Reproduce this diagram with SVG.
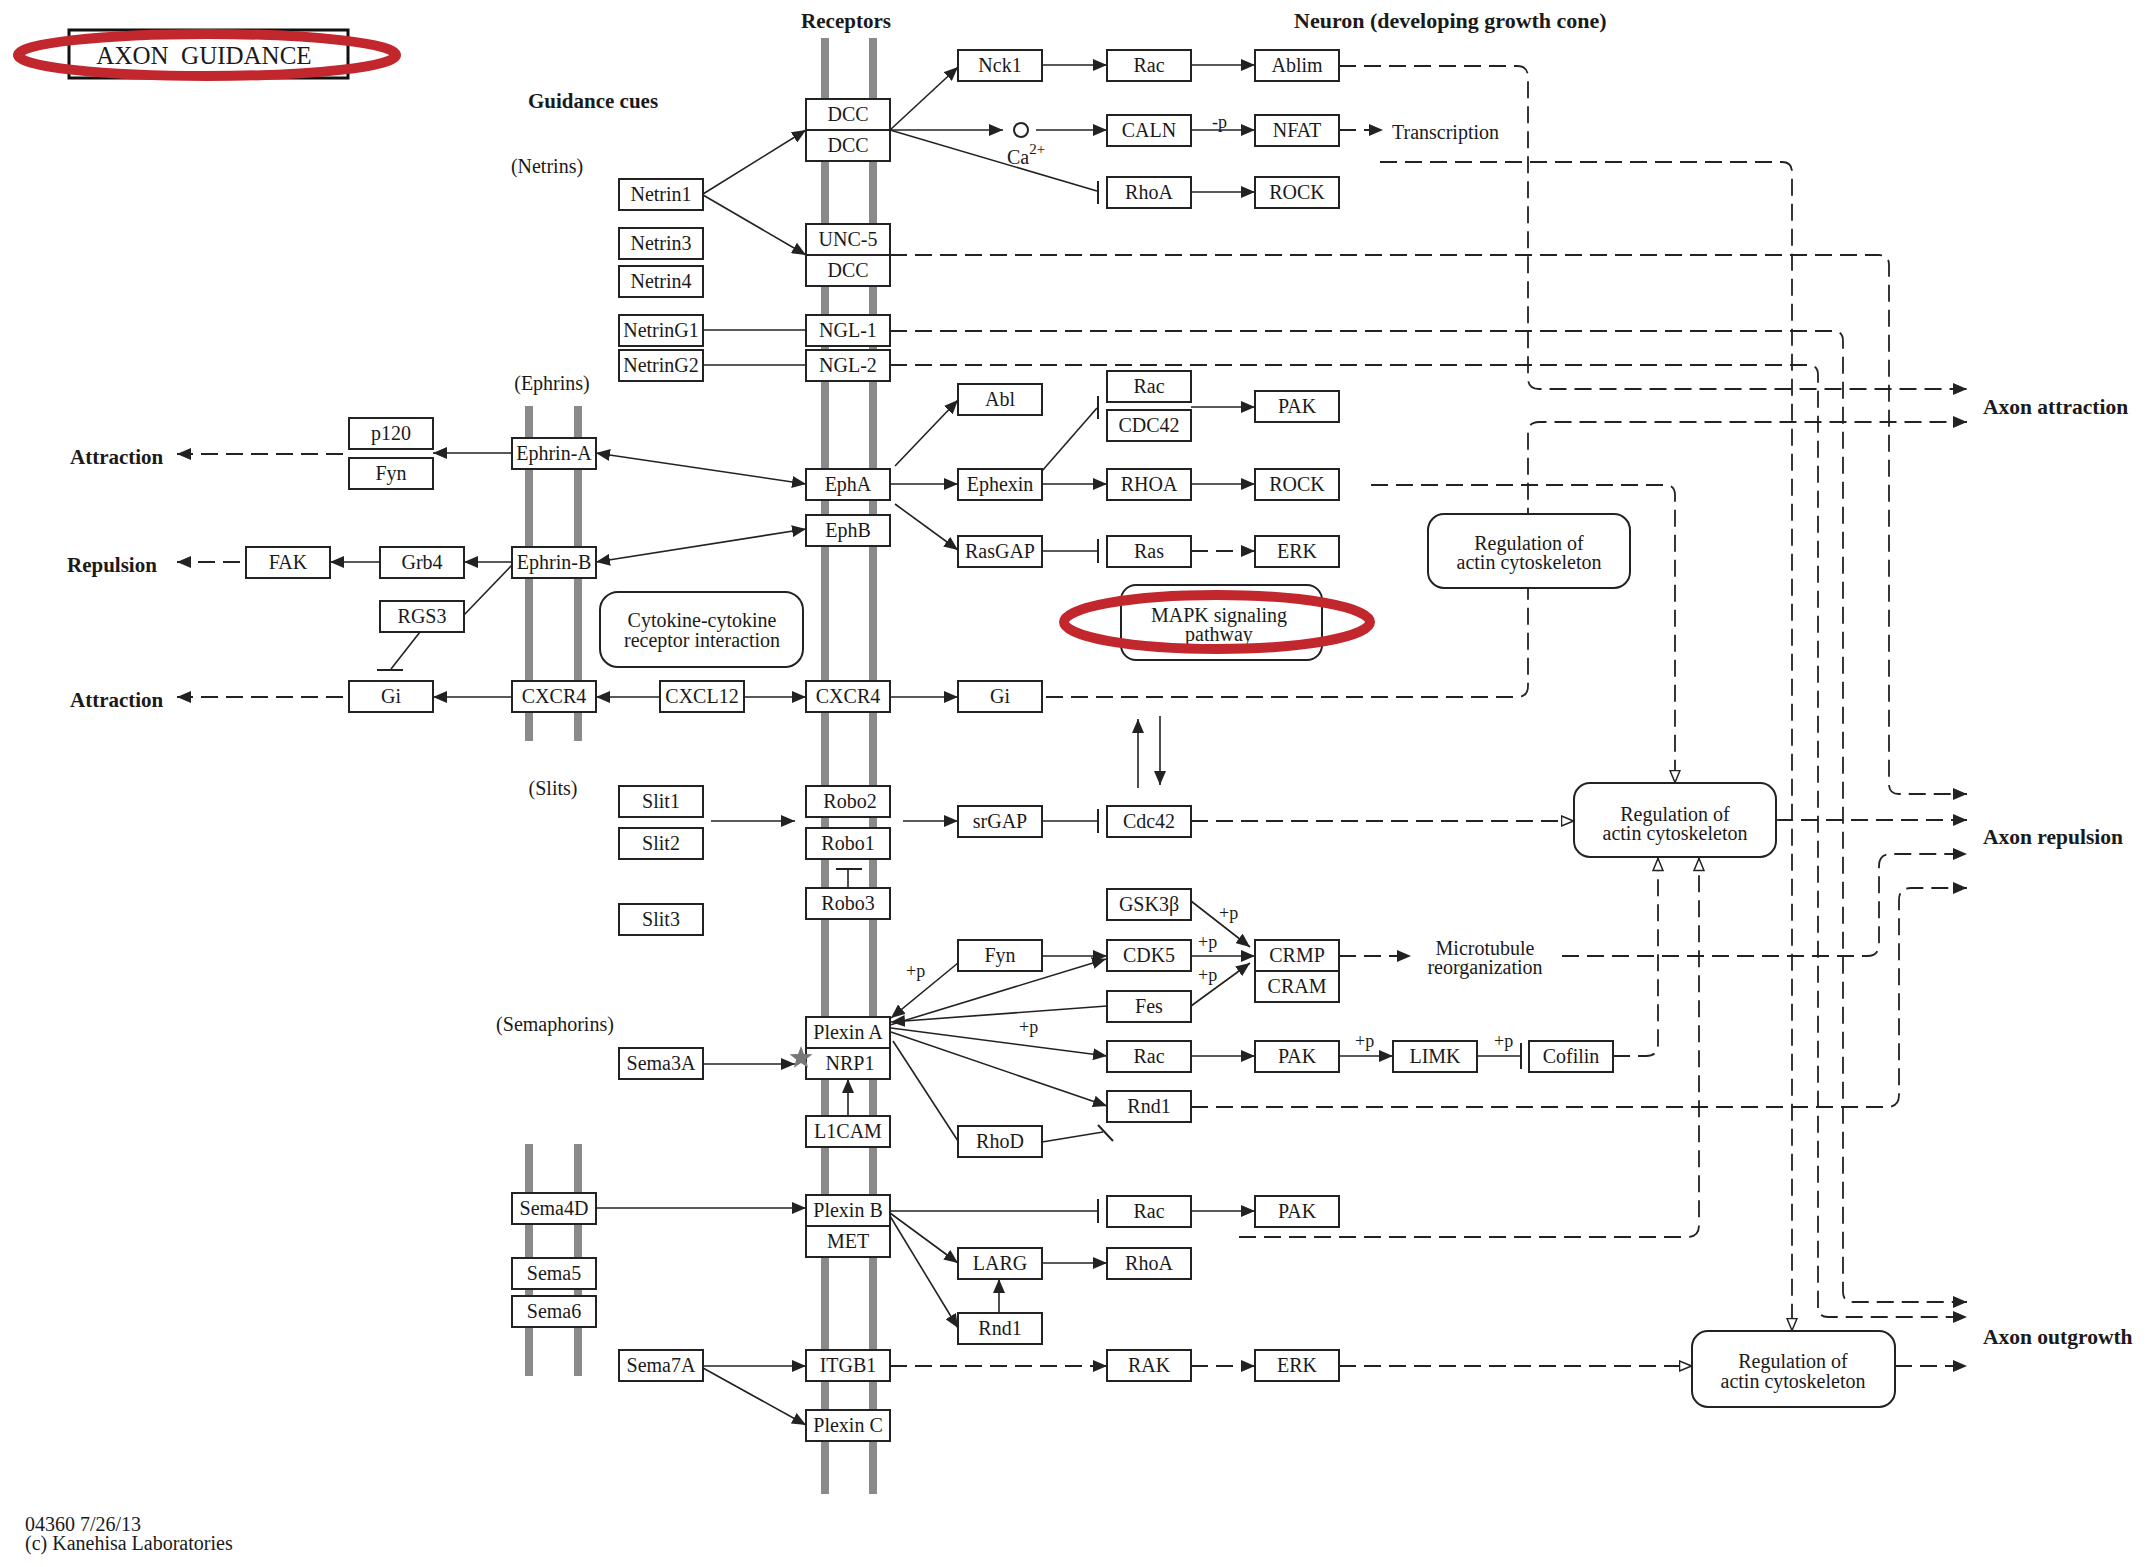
<svg xmlns="http://www.w3.org/2000/svg" width="2150" height="1567" viewBox="0 0 2150 1567">
<style>
text{font-family:'Liberation Serif','Times New Roman',serif;fill:#1a1a1a}
.b{fill:#fff;stroke:#222;stroke-width:2}
.r{fill:#fff;stroke:#222;stroke-width:2}
.t{font-size:20px;text-anchor:middle}
.h{font-size:21px;font-weight:bold}
.p{font-size:18px}
.m{fill:#8a8a8a}
.l{stroke:#222;stroke-width:1.6;fill:none}
.d{stroke:#222;stroke-width:1.8;fill:none;stroke-dasharray:17 8}
.ba{stroke:#222;stroke-width:2;fill:none}
.a{marker-end:url(#a)}
.ab{marker-start:url(#a);marker-end:url(#a)}
.o{marker-end:url(#o)}
</style>
<defs>
<marker id="a" viewBox="0 0 14 12" refX="14" refY="6" markerWidth="14" markerHeight="12" markerUnits="userSpaceOnUse" orient="auto-start-reverse"><path d="M0,0 L14,6 L0,12 z" fill="#222"/></marker>
<marker id="o" viewBox="0 0 14 12" refX="13.5" refY="6" markerWidth="14" markerHeight="12" markerUnits="userSpaceOnUse" orient="auto"><path d="M1,1 L13,6 L1,11 z" fill="#fff" stroke="#222" stroke-width="1.5"/></marker>
</defs>
<rect width="2150" height="1567" fill="#fff"/>

<g id="membranes">
<rect class="m" x="821" y="38" width="8" height="1456"/>
<rect class="m" x="869" y="38" width="8" height="1456"/>
<rect class="m" x="525" y="406" width="8" height="335"/>
<rect class="m" x="574" y="406" width="8" height="335"/>
<rect class="m" x="525" y="1144" width="8" height="232"/>
<rect class="m" x="574" y="1144" width="8" height="232"/>
</g>

<g id="connectors">
<path class="l a" d="M703,194 L806,130"/>
<path class="l a" d="M703,195 L806,255"/>
<path class="l a" d="M890,130 L958,67"/>
<path class="l a" d="M890,130 L1003,130"/>
<path class="l" d="M890,130 L1097,191"/><path class="ba" d="M1098,181 V204"/>
<path class="l a" d="M1042,65 L1107,65"/>
<path class="l a" d="M1191,65 L1255,65"/>
<path class="l a" d="M1036,130 L1107,130"/>
<path class="l a" d="M1191,130 L1255,130"/>
<path class="l a" d="M1191,192 L1255,192"/>
<path class="l" d="M703,330 L806,330"/>
<path class="l" d="M703,365 L806,365"/>
<path class="l ab" d="M596,453 L806,484"/>
<path class="l a" d="M512,453 L433,453"/>
<path class="l a" d="M895,466 L958,400"/>
<path class="l a" d="M890,484 L958,484"/>
<path class="l a" d="M895,504 L958,550"/>
<path class="l" d="M1042,471 L1097,408"/><path class="ba" d="M1098,396 V419"/>
<path class="l a" d="M1191,407 L1255,407"/>
<path class="l a" d="M1042,484 L1107,484"/>
<path class="l a" d="M1191,484 L1255,484"/>
<path class="l" d="M1042,551 L1097,551"/><path class="ba" d="M1098,539 V563"/>
<path class="l ab" d="M596,562 L806,529"/>
<path class="l a" d="M512,562 L464,562"/>
<path class="l a" d="M380,562 L330,562"/>
<path class="l" d="M512,565 L464,615"/>
<path class="l" d="M420,632 L391,669"/><path class="ba" d="M377,670 H403"/>
<path class="l a" d="M512,697 L433,697"/>
<path class="l a" d="M660,697 L596,697"/>
<path class="l a" d="M743,697 L806,697"/>
<path class="l a" d="M890,697 L958,697"/>
<path class="l a" d="M711,821 L795,821"/>
<path class="l a" d="M903,821 L958,821"/>
<path class="l" d="M1042,821 L1097,821"/><path class="ba" d="M1098,809 V833"/>
<path class="l" d="M848,888 V869"/><path class="ba" d="M836,869 H862"/>
<path class="l a" d="M1138,788 V719"/>
<path class="l a" d="M1160,716 V785"/>
<path class="l a" d="M958,963 L891,1018"/>
<path class="l a" d="M1042,956 L1107,956"/>
<path class="l a" d="M890,1025 L1106,959"/>
<path class="l a" d="M1107,1006 L891,1022"/>
<path class="l a" d="M891,1028 L1107,1056"/>
<path class="l a" d="M891,1032 L1107,1106"/>
<path class="l" d="M893,1041 L958,1141"/>
<path class="l" d="M1042,1142 L1103,1132"/><path class="ba" d="M1098,1125 L1113,1141"/>
<path class="l a" d="M1191,1056 L1255,1056"/>
<path class="l a" d="M1339,1056 L1393,1056"/>
<path class="l" d="M1477,1056 L1520,1056"/><path class="ba" d="M1521,1043 V1069"/>
<path class="l a" d="M1191,901 L1250,947"/>
<path class="l a" d="M1191,956 L1255,956"/>
<path class="l a" d="M1191,1006 L1250,963"/>
<path class="l a" d="M703,1064 L795,1064"/>
<path class="l a" d="M848,1116 V1079"/>
<path class="l a" d="M596,1208 L806,1208"/>
<path class="l" d="M890,1211 L1097,1211"/><path class="ba" d="M1098,1199 V1223"/>
<path class="l a" d="M1191,1211 L1255,1211"/>
<path class="l a" d="M890,1213 L958,1263"/>
<path class="l a" d="M890,1216 L958,1328"/>
<path class="l a" d="M999,1313 V1279"/>
<path class="l a" d="M1042,1263 L1107,1263"/>
<path class="l a" d="M703,1366 L806,1366"/>
<path class="l a" d="M703,1368 L806,1425"/>
<path class="d a" d="M343,454 L177,454"/>
<path class="d a" d="M240,562 L177,562"/>
<path class="d a" d="M343,697 L177,697"/>
<path class="d a" d="M1339,130 L1383,130"/>
<path class="d a" d="M1191,551 L1255,551"/>
<path class="d a" d="M1339,956 L1411,956"/>
<path class="d a" d="M1339,66 H1517 Q1528,66 1528,77 V378 Q1528,389 1539,389 H1967"/>
<path class="d a" d="M1046,697 H1517 Q1528,697 1528,686 V433 Q1528,422 1539,422 H1967"/>
<path class="d o" d="M1380,162 H1782 Q1792,162 1792,172 V1331"/>
<path class="d a" d="M890,255 H1879 Q1889,255 1889,265 V784 Q1889,794 1899,794 H1967"/>
<path class="d a" d="M890,331 H1833 Q1843,331 1843,341 V1292 Q1843,1302 1853,1302 H1967"/>
<path class="d a" d="M890,365 H1808 Q1818,365 1818,375 V1307 Q1818,1317 1828,1317 H1967"/>
<path class="d o" d="M1371,485 H1665 Q1675,485 1675,495 V783"/>
<path class="d a" d="M1776,820 H1967"/>
<path class="d a" d="M1562,956 H1867 Q1879,956 1879,944 V866 Q1879,854 1891,854 H1967"/>
<path class="d a" d="M1191,1107 H1887 Q1899,1107 1899,1095 V900 Q1899,888 1911,888 H1967"/>
<path class="d o" d="M1613,1056 H1646 Q1658,1056 1658,1044 V858"/>
<path class="d o" d="M1239,1237 H1687 Q1699,1237 1699,1225 V858"/>
<path class="d o" d="M1191,821 H1574"/>
<path class="d a" d="M890,1366 H1107"/>
<path class="d a" d="M1191,1366 H1255"/>
<path class="d o" d="M1339,1366 H1692"/>
<path class="d a" d="M1895,1366 H1967"/>
</g>

<g id="title">
<rect x="69" y="30" width="279" height="48" fill="#fff" stroke="#111" stroke-width="3"/>
<text x="204" y="64" font-size="25" text-anchor="middle">AXON&#160; GUIDANCE</text>
<ellipse cx="207" cy="55" rx="189" ry="21" fill="none" stroke="#c1272d" stroke-width="10"/>
</g>

<g id="labels">
<text class="h" x="846" y="28" text-anchor="middle">Receptors</text>
<text class="h" x="1294" y="28" style="font-size:22px">Neuron (developing growth cone)</text>
<text class="h" x="528" y="108">Guidance cues</text>
<text class="t" x="547" y="173">(Netrins)</text>
<text class="t" x="552" y="390">(Ephrins)</text>
<text class="t" x="553" y="795">(Slits)</text>
<text class="t" x="555" y="1031">(Semaphorins)</text>
<text class="h" x="70" y="464">Attraction</text>
<text class="h" x="67" y="572">Repulsion</text>
<text class="h" x="70" y="707">Attraction</text>
<text class="h" x="1983" y="414" style="font-size:21.5px">Axon attraction</text>
<text class="h" x="1983" y="844" style="font-size:21.5px">Axon repulsion</text>
<text class="h" x="1983" y="1344" style="font-size:21.5px">Axon outgrowth</text>
<text x="1392" y="139" font-size="20">Transcription</text>
<text class="t" x="1485" y="955">Microtubule</text>
<text class="t" x="1485" y="974">reorganization</text>
<text class="p" x="1212" y="128">-p</text>
<text class="p" x="906" y="977">+p</text>
<text class="p" x="1019" y="1033">+p</text>
<text class="p" x="1219" y="919">+p</text>
<text class="p" x="1198" y="948">+p</text>
<text class="p" x="1198" y="981">+p</text>
<text class="p" x="1355" y="1047">+p</text>
<text class="p" x="1494" y="1047">+p</text>
<text x="25" y="1531" font-size="20">04360 7/26/13</text>
<text x="25" y="1550" font-size="20">(c) Kanehisa Laboratories</text>
</g>

<g id="n-ca">
<circle cx="1021" cy="130" r="7" fill="#fff" stroke="#222" stroke-width="2"/>
<text x="1007" y="164" font-size="20">Ca<tspan dy="-10" font-size="15">2+</tspan></text>
</g>

<g id="n-cytokine"><rect class="r" x="600" y="592" width="203" height="75" rx="18"/><text class="t" x="702" y="627">Cytokine-cytokine</text><text class="t" x="702" y="647">receptor interaction</text></g>
<g id="n-mapk"><rect class="r" x="1121" y="585" width="201" height="75" rx="15"/><text class="t" x="1219" y="622">MAPK signaling</text><text class="t" x="1219" y="641">pathway</text>
<ellipse cx="1217" cy="622" rx="153" ry="27" fill="none" stroke="#c1272d" stroke-width="10"/></g>
<g id="n-reg1"><rect class="r" x="1428" y="514" width="202" height="74" rx="16"/><text class="t" x="1529" y="550">Regulation of</text><text class="t" x="1529" y="569">actin cytoskeleton</text></g>
<g id="n-reg2"><rect class="r" x="1574" y="783" width="202" height="74" rx="16"/><text class="t" x="1675" y="821">Regulation of</text><text class="t" x="1675" y="840">actin cytoskeleton</text></g>
<g id="n-reg3"><rect class="r" x="1692" y="1331" width="203" height="76" rx="16"/><text class="t" x="1793" y="1368">Regulation of</text><text class="t" x="1793" y="1388">actin cytoskeleton</text></g>

<g id="n-dcc1"><rect class="b" x="806" y="99" width="84" height="31"/><text class="t" x="848" y="121">DCC</text></g>
<g id="n-dcc2"><rect class="b" x="806" y="130" width="84" height="31"/><text class="t" x="848" y="152">DCC</text></g>
<g id="n-unc5"><rect class="b" x="806" y="224" width="84" height="31"/><text class="t" x="848" y="246">UNC-5</text></g>
<g id="n-dcc3"><rect class="b" x="806" y="255" width="84" height="31"/><text class="t" x="848" y="277">DCC</text></g>
<g id="n-ngl1"><rect class="b" x="806" y="315" width="84" height="31"/><text class="t" x="848" y="337">NGL-1</text></g>
<g id="n-ngl2"><rect class="b" x="806" y="350" width="84" height="31"/><text class="t" x="848" y="372">NGL-2</text></g>
<g id="n-epha"><rect class="b" x="806" y="469" width="84" height="31"/><text class="t" x="848" y="491">EphA</text></g>
<g id="n-ephb"><rect class="b" x="806" y="515" width="84" height="31"/><text class="t" x="848" y="537">EphB</text></g>
<g id="n-cxcr4r"><rect class="b" x="806" y="681" width="84" height="31"/><text class="t" x="848" y="703">CXCR4</text></g>
<g id="n-robo2"><rect class="b" x="806" y="786" width="84" height="31"/><text class="t" x="850" y="808">Robo2</text></g>
<g id="n-robo1"><rect class="b" x="806" y="828" width="84" height="31"/><text class="t" x="848" y="850">Robo1</text></g>
<g id="n-robo3"><rect class="b" x="806" y="888" width="84" height="31"/><text class="t" x="848" y="910">Robo3</text></g>
<g id="n-plexina"><rect class="b" x="806" y="1017" width="84" height="31"/><text class="t" x="848" y="1039">Plexin A</text></g>
<g id="n-nrp1"><rect class="b" x="806" y="1048" width="84" height="31"/><text class="t" x="850" y="1070">NRP1</text></g>
<g id="n-l1cam"><rect class="b" x="806" y="1116" width="84" height="31"/><text class="t" x="848" y="1138">L1CAM</text></g>
<g id="n-plexinb"><rect class="b" x="806" y="1195" width="84" height="31"/><text class="t" x="848" y="1217">Plexin B</text></g>
<g id="n-met"><rect class="b" x="806" y="1226" width="84" height="31"/><text class="t" x="848" y="1248">MET</text></g>
<g id="n-itgb1"><rect class="b" x="806" y="1350" width="84" height="31"/><text class="t" x="848" y="1372">ITGB1</text></g>
<g id="n-plexinc"><rect class="b" x="806" y="1410" width="84" height="31"/><text class="t" x="848" y="1432">Plexin C</text></g>
<polygon id="n-star" points="801,1046 803.9,1054 812.4,1054.3 805.8,1059.5 808.1,1067.7 801,1063 793.9,1067.7 796.2,1059.5 789.6,1054.3 798.1,1054" fill="#777"/>

<g id="n-netrin1"><rect class="b" x="619" y="179" width="84" height="31"/><text class="t" x="661" y="201">Netrin1</text></g>
<g id="n-netrin3"><rect class="b" x="619" y="228" width="84" height="31"/><text class="t" x="661" y="250">Netrin3</text></g>
<g id="n-netrin4"><rect class="b" x="619" y="266" width="84" height="31"/><text class="t" x="661" y="288">Netrin4</text></g>
<g id="n-netring1"><rect class="b" x="619" y="315" width="84" height="31"/><text class="t" x="661" y="337">NetrinG1</text></g>
<g id="n-netring2"><rect class="b" x="619" y="350" width="84" height="31"/><text class="t" x="661" y="372">NetrinG2</text></g>
<g id="n-cxcl12"><rect class="b" x="660" y="681" width="84" height="31"/><text class="t" x="702" y="703">CXCL12</text></g>
<g id="n-slit1"><rect class="b" x="619" y="786" width="84" height="31"/><text class="t" x="661" y="808">Slit1</text></g>
<g id="n-slit2"><rect class="b" x="619" y="828" width="84" height="31"/><text class="t" x="661" y="850">Slit2</text></g>
<g id="n-slit3"><rect class="b" x="619" y="904" width="84" height="31"/><text class="t" x="661" y="926">Slit3</text></g>
<g id="n-sema3a"><rect class="b" x="619" y="1048" width="84" height="31"/><text class="t" x="661" y="1070">Sema3A</text></g>
<g id="n-sema7a"><rect class="b" x="619" y="1350" width="84" height="31"/><text class="t" x="661" y="1372">Sema7A</text></g>

<g id="n-ephrina"><rect class="b" x="512" y="438" width="84" height="31"/><text class="t" x="554" y="460">Ephrin-A</text></g>
<g id="n-ephrinb"><rect class="b" x="512" y="547" width="84" height="31"/><text class="t" x="554" y="569">Ephrin-B</text></g>
<g id="n-cxcr4l"><rect class="b" x="512" y="681" width="84" height="31"/><text class="t" x="554" y="703">CXCR4</text></g>
<g id="n-sema4d"><rect class="b" x="512" y="1193" width="84" height="31"/><text class="t" x="554" y="1215">Sema4D</text></g>
<g id="n-sema5"><rect class="b" x="512" y="1258" width="84" height="31"/><text class="t" x="554" y="1280">Sema5</text></g>
<g id="n-sema6"><rect class="b" x="512" y="1296" width="84" height="31"/><text class="t" x="554" y="1318">Sema6</text></g>

<g id="n-p120"><rect class="b" x="349" y="418" width="84" height="31"/><text class="t" x="391" y="440">p120</text></g>
<g id="n-fyn1"><rect class="b" x="349" y="458" width="84" height="31"/><text class="t" x="391" y="480">Fyn</text></g>
<g id="n-fak"><rect class="b" x="246" y="547" width="84" height="31"/><text class="t" x="288" y="569">FAK</text></g>
<g id="n-grb4"><rect class="b" x="380" y="547" width="84" height="31"/><text class="t" x="422" y="569">Grb4</text></g>
<g id="n-rgs3"><rect class="b" x="380" y="601" width="84" height="31"/><text class="t" x="422" y="623">RGS3</text></g>
<g id="n-gi1"><rect class="b" x="349" y="681" width="84" height="31"/><text class="t" x="391" y="703">Gi</text></g>

<g id="n-nck1"><rect class="b" x="958" y="50" width="84" height="31"/><text class="t" x="1000" y="72">Nck1</text></g>
<g id="n-abl"><rect class="b" x="958" y="384" width="84" height="31"/><text class="t" x="1000" y="406">Abl</text></g>
<g id="n-ephexin"><rect class="b" x="958" y="469" width="84" height="31"/><text class="t" x="1000" y="491">Ephexin</text></g>
<g id="n-rasgap"><rect class="b" x="958" y="536" width="84" height="31"/><text class="t" x="1000" y="558">RasGAP</text></g>
<g id="n-gi2"><rect class="b" x="958" y="681" width="84" height="31"/><text class="t" x="1000" y="703">Gi</text></g>
<g id="n-srgap"><rect class="b" x="958" y="806" width="84" height="31"/><text class="t" x="1000" y="828">srGAP</text></g>
<g id="n-fyn2"><rect class="b" x="958" y="940" width="84" height="31"/><text class="t" x="1000" y="962">Fyn</text></g>
<g id="n-rhod"><rect class="b" x="958" y="1126" width="84" height="31"/><text class="t" x="1000" y="1148">RhoD</text></g>
<g id="n-larg"><rect class="b" x="958" y="1248" width="84" height="31"/><text class="t" x="1000" y="1270">LARG</text></g>
<g id="n-rnd1b"><rect class="b" x="958" y="1313" width="84" height="31"/><text class="t" x="1000" y="1335">Rnd1</text></g>

<g id="n-rac1"><rect class="b" x="1107" y="50" width="84" height="31"/><text class="t" x="1149" y="72">Rac</text></g>
<g id="n-caln"><rect class="b" x="1107" y="115" width="84" height="31"/><text class="t" x="1149" y="137">CALN</text></g>
<g id="n-rhoa1"><rect class="b" x="1107" y="177" width="84" height="31"/><text class="t" x="1149" y="199">RhoA</text></g>
<g id="n-rac2"><rect class="b" x="1107" y="371" width="84" height="31"/><text class="t" x="1149" y="393">Rac</text></g>
<g id="n-cdc42a"><rect class="b" x="1107" y="410" width="84" height="31"/><text class="t" x="1149" y="432">CDC42</text></g>
<g id="n-rhoa2"><rect class="b" x="1107" y="469" width="84" height="31"/><text class="t" x="1149" y="491">RHOA</text></g>
<g id="n-ras"><rect class="b" x="1107" y="536" width="84" height="31"/><text class="t" x="1149" y="558">Ras</text></g>
<g id="n-cdc42b"><rect class="b" x="1107" y="806" width="84" height="31"/><text class="t" x="1149" y="828">Cdc42</text></g>
<g id="n-gsk3b"><rect class="b" x="1107" y="889" width="84" height="31"/><text class="t" x="1149" y="911">GSK3β</text></g>
<g id="n-cdk5"><rect class="b" x="1107" y="940" width="84" height="31"/><text class="t" x="1149" y="962">CDK5</text></g>
<g id="n-fes"><rect class="b" x="1107" y="991" width="84" height="31"/><text class="t" x="1149" y="1013">Fes</text></g>
<g id="n-rac3"><rect class="b" x="1107" y="1041" width="84" height="31"/><text class="t" x="1149" y="1063">Rac</text></g>
<g id="n-rnd1a"><rect class="b" x="1107" y="1091" width="84" height="31"/><text class="t" x="1149" y="1113">Rnd1</text></g>
<g id="n-rac4"><rect class="b" x="1107" y="1196" width="84" height="31"/><text class="t" x="1149" y="1218">Rac</text></g>
<g id="n-rhoa3"><rect class="b" x="1107" y="1248" width="84" height="31"/><text class="t" x="1149" y="1270">RhoA</text></g>
<g id="n-rak"><rect class="b" x="1107" y="1350" width="84" height="31"/><text class="t" x="1149" y="1372">RAK</text></g>

<g id="n-ablim"><rect class="b" x="1255" y="50" width="84" height="31"/><text class="t" x="1297" y="72">Ablim</text></g>
<g id="n-nfat"><rect class="b" x="1255" y="115" width="84" height="31"/><text class="t" x="1297" y="137">NFAT</text></g>
<g id="n-rock1"><rect class="b" x="1255" y="177" width="84" height="31"/><text class="t" x="1297" y="199">ROCK</text></g>
<g id="n-pak1"><rect class="b" x="1255" y="391" width="84" height="31"/><text class="t" x="1297" y="413">PAK</text></g>
<g id="n-rock2"><rect class="b" x="1255" y="469" width="84" height="31"/><text class="t" x="1297" y="491">ROCK</text></g>
<g id="n-erk1"><rect class="b" x="1255" y="536" width="84" height="31"/><text class="t" x="1297" y="558">ERK</text></g>
<g id="n-crmp"><rect class="b" x="1255" y="940" width="84" height="31"/><text class="t" x="1297" y="962">CRMP</text></g>
<g id="n-cram"><rect class="b" x="1255" y="971" width="84" height="31"/><text class="t" x="1297" y="993">CRAM</text></g>
<g id="n-pak2"><rect class="b" x="1255" y="1041" width="84" height="31"/><text class="t" x="1297" y="1063">PAK</text></g>
<g id="n-pak3"><rect class="b" x="1255" y="1196" width="84" height="31"/><text class="t" x="1297" y="1218">PAK</text></g>
<g id="n-erk2"><rect class="b" x="1255" y="1350" width="84" height="31"/><text class="t" x="1297" y="1372">ERK</text></g>
<g id="n-limk"><rect class="b" x="1393" y="1041" width="84" height="31"/><text class="t" x="1435" y="1063">LIMK</text></g>
<g id="n-cofilin"><rect class="b" x="1529" y="1041" width="84" height="31"/><text class="t" x="1571" y="1063">Cofilin</text></g>
</svg>
